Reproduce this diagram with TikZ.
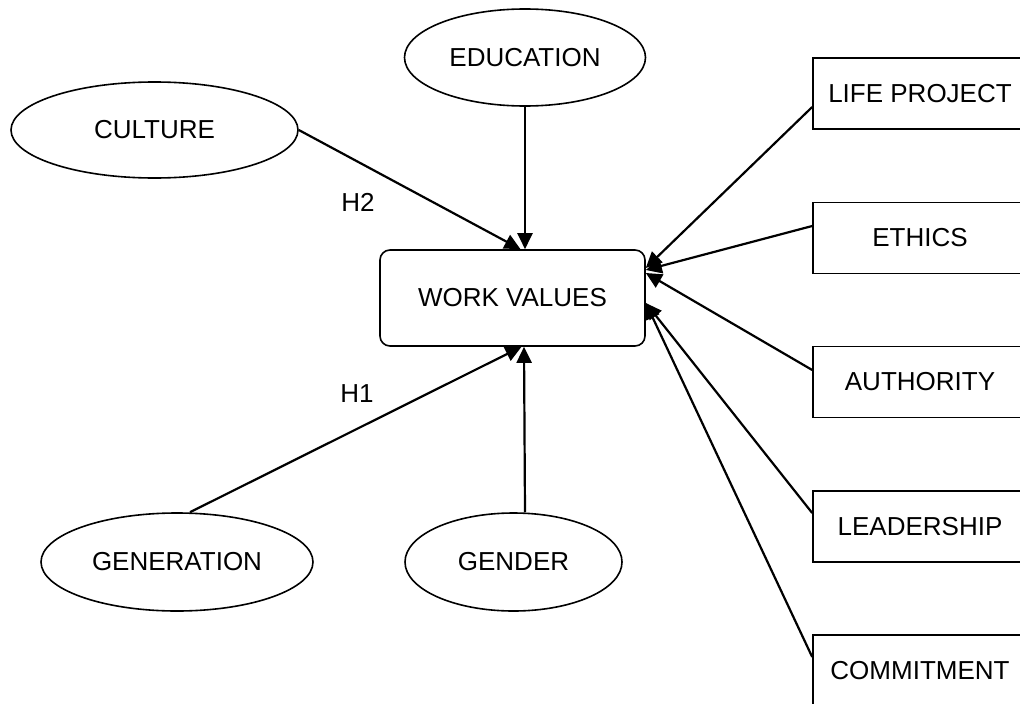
\documentclass[tikz,border=0pt]{standalone}
\usepackage{fontspec}
\setmainfont{Liberation Sans}
\usetikzlibrary{arrows.meta,shapes.geometric}
\begin{document}
\begin{tikzpicture}[x=1pt,y=-1pt,
  every node/.style={font=\fontsize{26}{31}\selectfont, inner sep=0pt},
  oval/.style={ellipse, draw, line width=1.6pt},
  sidebox/.style={rectangle, draw, line width=1.6pt, minimum width=214pt, minimum height=71pt},
  arr/.style={line width=2.2pt, -{Triangle[length=16pt,width=15pt]}}]
\clip (0,0) rectangle (1020,704);
% ellipses
\node[oval, minimum width=241pt, minimum height=97pt] (edu) at (525,57.5) {EDUCATION};
\node[oval, minimum width=287pt, minimum height=96pt] (cul) at (154.5,130) {CULTURE};
\node[oval, minimum width=272pt, minimum height=98pt] (gen) at (177,562) {GENERATION};
\node[oval, minimum width=217pt, minimum height=98pt] (gnd) at (513.5,562) {GENDER};
% central box
\node[rectangle, draw, line width=1.6pt, rounded corners=10pt, minimum width=265pt, minimum height=96pt] (wv) at (512.5,298) {WORK VALUES};
% side boxes
\node[sidebox] (lp)  at (920,93.5)  {LIFE PROJECT};
\node[sidebox] (eth) at (920,238)   {ETHICS};
\node[sidebox] (aut) at (920,382)   {AUTHORITY};
\node[sidebox] (lea) at (920,526.5) {LEADERSHIP};
\node[sidebox] (com) at (920,670.5) {COMMITMENT};
% labels
\node (h2) at (358,202) {H2};
\node (h1) at (357,394) {H1};
% connectors
\draw[arr] (cul.east) -- ([xshift=8pt]wv.north);
\draw[arr] (edu.south) -- ([xshift=12.5pt]wv.north);
\draw[arr] ([xshift=13pt]gen.north) -- ([xshift=9pt]wv.south);
\draw[arr] ([xshift=11.5pt]gnd.north) -- ([xshift=11.5pt]wv.south);
\draw[arr] ([yshift=-13.5pt]lp.west) -- ([yshift=30pt]wv.east);
\draw[arr] ([yshift=12pt]eth.west) -- ([yshift=28pt]wv.east);
\draw[arr] ([yshift=12pt]aut.west) -- ([yshift=25pt]wv.east);
\draw[arr] ([yshift=13.5pt]lea.west) -- ([yshift=-5pt]wv.east);
\draw[arr] ([yshift=13.5pt]com.west) -- ([yshift=-5pt]wv.east);
\end{tikzpicture}
\end{document}
